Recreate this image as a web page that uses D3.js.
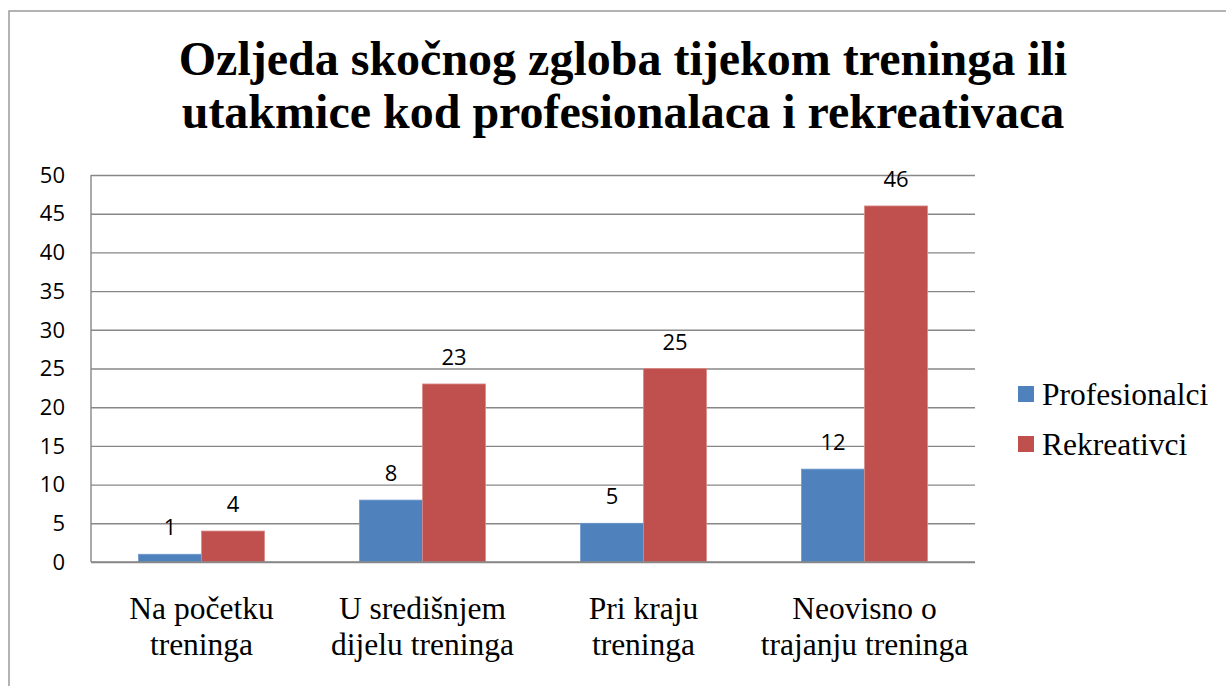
<!DOCTYPE html>
<html>
<head>
<meta charset="utf-8">
<script src="https://cdn.jsdelivr.net/npm/d3@7"></script>
<style>
  body { margin: 0; background: #fff; }
</style>
</head>
<body>
<div id="chart"></div>
<script>
const titleLines = ['Ozljeda skočnog zgloba tijekom treninga ili', 'utakmice kod profesionalaca i rekreativaca']
const categories = [
  ['Na početku', 'treninga'],
  ['U središnjem', 'dijelu treninga'],
  ['Pri kraju', 'treninga'],
  ['Neovisno o', 'trajanju treninga']
]
const seriesNames = ['Profesionalci', 'Rekreativci']
const profesionalci = [1, 8, 5, 12]
const rekreativci = [4, 23, 25, 46]
const yTicks = [0, 5, 10, 15, 20, 25, 30, 35, 40, 45, 50]
const colors = ['#4F81BD', '#C0504D']

const width = 1226, height = 686
const margin = {top: 175, right: 251, bottom: 124, left: 91}

const svg = d3.select('#chart').append('svg')
  .attr('width', width)
  .attr('height', height)

// chart frame
svg.append('rect')
  .attr('x', 9).attr('y', 11)
  .attr('width', width + 20).attr('height', height + 20)
  .attr('fill', 'none')
  .attr('stroke', '#9a9a9a')
  .attr('stroke-width', 1.5)

// title
svg.append('text')
  .attr('x', 623)
  .attr('text-anchor', 'middle')
  .attr('font-family', '"Liberation Serif", "Times New Roman", serif')
  .attr('font-weight', 'bold')
  .attr('font-size', 48)
  .selectAll('tspan')
  .data(titleLines)
  .join('tspan')
  .attr('x', 623)
  .attr('y', (d, i) => 75 + i * 53)
  .text(d => d)

const x0 = d3.scaleBand()
  .domain(d3.range(categories.length))
  .range([margin.left, width - margin.right])
  .paddingInner(0.43)
  .paddingOuter(0.215)
const x1 = d3.scaleBand()
  .domain(d3.range(seriesNames.length))
  .range([0, x0.bandwidth()])
const y = d3.scaleLinear()
  .domain([0, 50])
  .range([height - margin.bottom, margin.top])

// gridlines
const yAxis = d3.axisLeft(y)
  .tickValues(yTicks)
  .tickSize(-(width - margin.left - margin.right))
  .tickFormat('')
const grid = svg.append('g')
  .attr('transform', `translate(${margin.left},0)`)
  .call(yAxis)
grid.select('.domain').remove()
grid.selectAll('line').attr('stroke', '#878787').attr('stroke-width', 1.4)

// y tick labels
svg.append('g').selectAll('text')
  .data(yTicks)
  .join('text')
  .attr('x', 65)
  .attr('y', d => y(d))
  .attr('dy', '0.35em')
  .attr('text-anchor', 'end')
  .attr('font-family', '"Open Sans", "Liberation Sans", sans-serif')
  .attr('font-size', 22)
  .attr('fill', '#000')
  .text(d => d)

// vertical axis line
svg.append('line')
  .attr('x1', margin.left).attr('x2', margin.left)
  .attr('y1', y(50)).attr('y2', y(0))
  .attr('stroke', '#878787').attr('stroke-width', 1.4)

const rows = categories.map((c, i) => [profesionalci[i], rekreativci[i]])

const groups = svg.append('g').selectAll('g')
  .data(rows)
  .join('g')
  .attr('transform', (d, i) => `translate(${x0(i)},0)`)

groups.selectAll('rect')
  .data(d => d)
  .join('rect')
  .attr('x', (d, j) => x1(j))
  .attr('y', d => y(d))
  .attr('width', x1.bandwidth())
  .attr('height', d => y(0) - y(d))
  .attr('fill', (d, j) => colors[j])
  .attr('stroke', (d, j) => j === 1 ? '#d98a86' : '#6f99cc')
  .attr('stroke-width', 0.8)

groups.selectAll('text')
  .data(d => d)
  .join('text')
  .attr('x', (d, j) => x1(j) + x1.bandwidth() / 2)
  .attr('y', d => y(d) - 19)
  .attr('text-anchor', 'middle')
  .attr('font-family', '"Open Sans", "Liberation Sans", sans-serif')
  .attr('font-size', 22)
  .attr('fill', '#000')
  .text(d => d)

// x axis baseline
svg.append('line')
  .attr('x1', margin.left).attr('x2', width - margin.right)
  .attr('y1', y(0)).attr('y2', y(0))
  .attr('stroke', '#878787').attr('stroke-width', 1.4)

// category labels
svg.append('g').selectAll('text')
  .data(categories)
  .join('text')
  .attr('text-anchor', 'middle')
  .attr('font-family', '"Liberation Serif", "Times New Roman", serif')
  .attr('font-size', 31.5)
  .attr('fill', '#000')
  .each(function(d, i) {
    d3.select(this).selectAll('tspan')
      .data(d)
      .join('tspan')
      .attr('x', x0(i) + x0.bandwidth() / 2)
      .attr('y', (t, k) => 619 + k * 36)
      .text(t => t)
  })

// legend
const legend = svg.append('g').selectAll('g')
  .data(seriesNames)
  .join('g')
  .attr('transform', (d, i) => `translate(1018,${386 + i * 50})`)
legend.append('rect')
  .attr('width', 16).attr('height', 16)
  .attr('fill', (d, i) => colors[i])
legend.append('text')
  .attr('x', 24)
  .attr('y', 19)
  .attr('font-family', '"Liberation Serif", "Times New Roman", serif')
  .attr('font-size', 31.5)
  .attr('fill', '#000')
  .text(d => d)
</script>
</body>
</html>
